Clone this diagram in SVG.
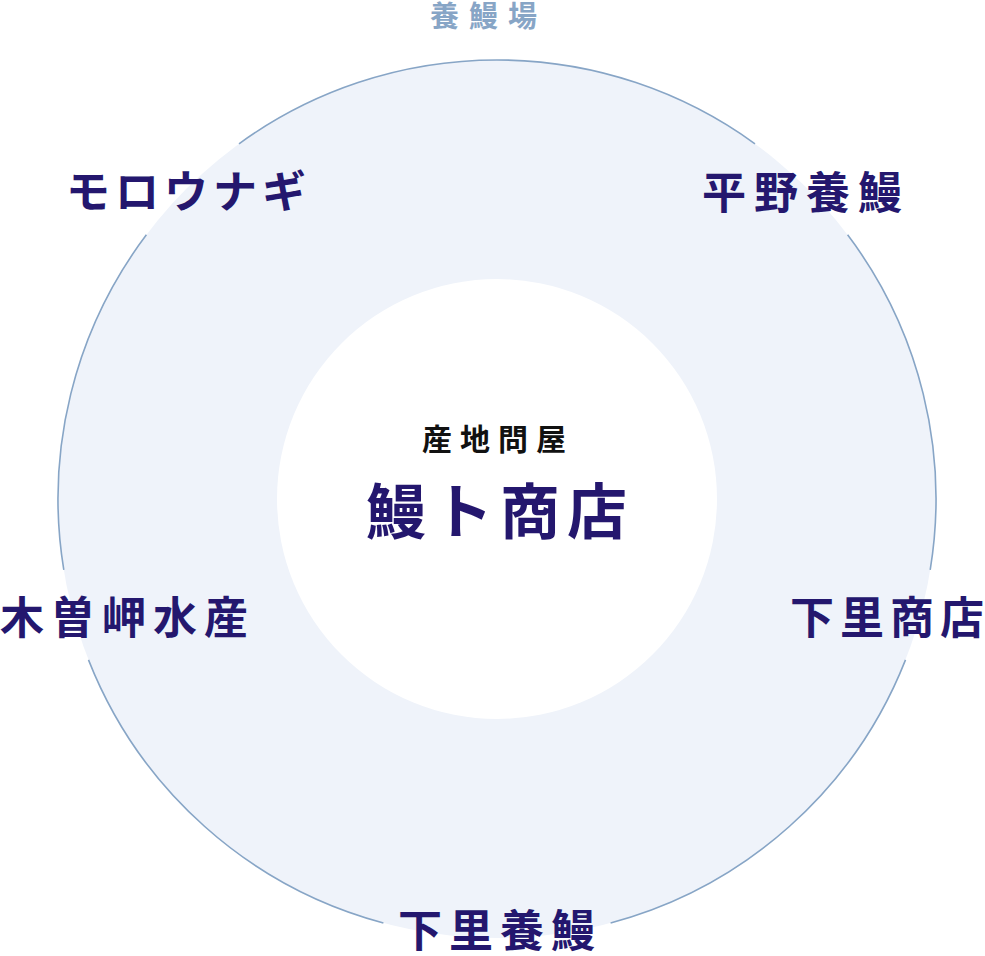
<svg xmlns="http://www.w3.org/2000/svg" width="985" height="956" viewBox="0 0 985 956">
  <style>
    .lbl { font-family: "Liberation Serif", "Noto Sans CJK JP", serif; font-weight: 700; fill: #24176e; }
    .big { font-size: 44px; }
    .ring { fill: none; stroke: #87a5c6; stroke-width: 1.6; }
  </style>
  <rect width="985" height="956" fill="#ffffff"/>
  <g id="ring-area">
    <circle cx="497" cy="499" r="439" fill="#eff3fa"/>
    <circle cx="497" cy="499" r="220" fill="#ffffff"/>
  </g>
  <g id="connectors">
    <path class="ring" d="M905.5,659.9 A439,439 0 0 1 610.6,923"/>
    <path class="ring" d="M383.4,923 A439,439 0 0 1 88.5,659.9"/>
    <path class="ring" d="M63.8,569.9 A439,439 0 0 1 146.4,234.8"/>
    <path class="ring" d="M239,143.8 A439,439 0 0 1 755,143.8"/>
    <path class="ring" d="M847.6,234.8 A439,439 0 0 1 930.2,569.9"/>
  </g>
  <g id="node-yoman-jo">
    <text class="lbl" x="430 469 508" y="27" font-size="29" style="fill:#87a5c6">養鰻場</text>
  </g>
  <g id="node-moro">
    <text class="lbl big" x="66 115 164 213 262" y="208">モロウナギ</text>
  </g>
  <g id="node-hirano">
    <text class="lbl big" x="702 754 806 858" y="209">平野養鰻</text>
  </g>
  <g id="node-kisosaki">
    <text class="lbl big" x="0 51 102 153 204" y="634">木曽岬水産</text>
  </g>
  <g id="node-shimosato-shoten">
    <text class="lbl big" x="790 840 890 940" y="634">下里商店</text>
  </g>
  <g id="node-shimosato-yoman">
    <text class="lbl big" x="398 449 500 551" y="947">下里養鰻</text>
  </g>
  <g id="node-center">
    <text class="lbl" x="422 460 498 536" y="450" font-size="30" style="fill:#111111;font-weight:600">産地問屋</text>
    <text class="lbl" x="366 433 500 567" y="534" font-size="60">鰻ト商店</text>
  </g>
</svg>
